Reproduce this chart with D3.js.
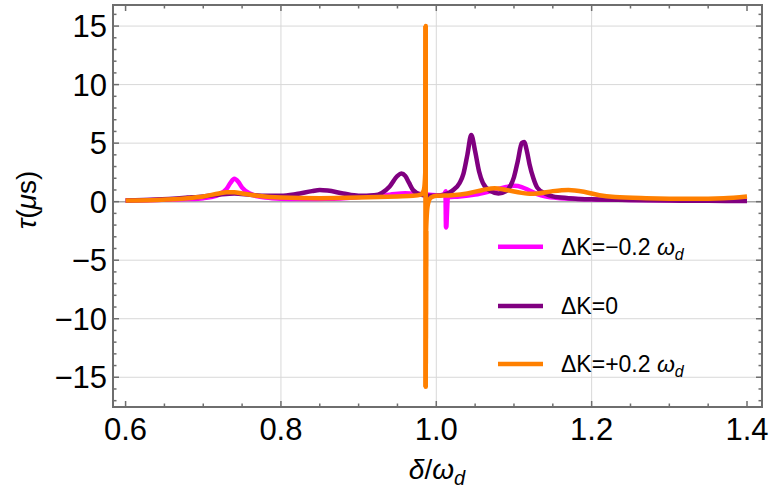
<!DOCTYPE html>
<html>
<head>
<meta charset="utf-8">
<script src="https://cdn.jsdelivr.net/npm/d3@7"></script>
<style>
    body { margin: 0; background: #fff; }
    svg text { font-family: "Liberation Sans", Arial, sans-serif; fill: #000; }
</style>
</head>
<body>
<div id="chart"></div>
<script>
(function () {
    'use strict';

    // delta/omega_d, tau (us)
    var seriesMinus = [
        [0.60, 0.10], [0.62, 0.12], [0.64, 0.15], [0.66, 0.18], [0.68, 0.22], [0.70, 0.30],
        [0.71, 0.40], [0.72, 0.60], [0.73, 1.10], [0.735, 1.60], [0.74, 1.95], [0.745, 1.70],
        [0.75, 1.20], [0.76, 0.70], [0.77, 0.45], [0.78, 0.35], [0.80, 0.25], [0.82, 0.22],
        [0.84, 0.22], [0.86, 0.25], [0.88, 0.30], [0.90, 0.40], [0.92, 0.50], [0.94, 0.60],
        [0.96, 0.72], [0.98, 0.65], [1.00, 0.55], [1.010, 0.60], [1.0122, 0.90], [1.0126, -2.2],
        [1.015, 0.40], [1.03, 0.45], [1.05, 0.60], [1.07, 0.90], [1.09, 1.25], [1.10, 1.35],
        [1.11, 1.25], [1.12, 0.95], [1.13, 0.65], [1.14, 0.45], [1.16, 0.30], [1.20, 0.20],
        [1.25, 0.15], [1.30, 0.12], [1.35, 0.10], [1.40, 0.08]
    ];

    var seriesZero = [
        [0.60, 0.10], [0.64, 0.18], [0.68, 0.35], [0.70, 0.45], [0.72, 0.60], [0.74, 0.70],
        [0.76, 0.60], [0.78, 0.50], [0.80, 0.50], [0.82, 0.65], [0.84, 0.90], [0.85, 1.00],
        [0.86, 0.95], [0.88, 0.70], [0.90, 0.50], [0.92, 0.55], [0.93, 0.75], [0.94, 1.30],
        [0.95, 2.20], [0.955, 2.40], [0.96, 2.20], [0.965, 1.60], [0.97, 1.00], [0.98, 0.60],
        [0.99, 0.50], [1.00, 0.50], [1.01, 0.60], [1.02, 0.90], [1.03, 1.60], [1.035, 2.40],
        [1.04, 4.00], [1.045, 5.70], [1.05, 4.30], [1.055, 2.60], [1.06, 1.60], [1.07, 0.90],
        [1.08, 0.70], [1.09, 0.90], [1.095, 1.30], [1.10, 2.10], [1.105, 3.50], [1.11, 5.00],
        [1.113, 5.10], [1.117, 4.20], [1.12, 3.20], [1.125, 2.00], [1.13, 1.20], [1.14, 0.70],
        [1.15, 0.45], [1.17, 0.30], [1.20, 0.20], [1.25, 0.15], [1.30, 0.10], [1.35, 0.07],
        [1.40, 0.05]
    ];

    var seriesPlus = [
        [0.60, 0.10], [0.64, 0.15], [0.68, 0.30], [0.70, 0.45], [0.72, 0.70], [0.73, 0.80],
        [0.74, 0.80], [0.75, 0.70], [0.77, 0.50], [0.80, 0.35], [0.85, 0.30], [0.90, 0.35],
        [0.95, 0.45], [0.97, 0.50], [0.98, 0.60], [0.984, 1.0], [0.9858, 2.5], [0.98635, 15.0],
        [0.98640, -15.8], [0.9869, -2.5], [0.989, -0.3], [0.993, 0.35], [1.00, 0.50], [1.02, 0.55],
        [1.04, 0.70], [1.06, 1.00], [1.075, 1.15], [1.09, 1.00], [1.11, 0.75], [1.12, 0.68],
        [1.13, 0.70], [1.15, 0.90], [1.17, 1.00], [1.19, 0.85], [1.21, 0.55], [1.23, 0.40],
        [1.27, 0.30], [1.33, 0.25], [1.37, 0.30], [1.40, 0.45]
    ];

    var seriesNames = ['\u0394K=\u22120.2 ', '\u0394K=0', '\u0394K=+0.2 '];
    var seriesColors = ['#ff00ff', '#800080', '#ff8000'];
    var xTickLabels = [0.6, 0.8, 1.0, 1.2, 1.4];
    var yTickLabels = [-15, -10, -5, 0, 5, 10, 15];

    var width = 772, height = 495;
    var left = 113, right = 762, top = 5, bottom = 407;

    var x = d3.scaleLinear().domain([0.5838, 1.4193]).range([left, right]);
    var y = d3.scaleLinear().domain([-17.54, 16.80]).range([bottom, top]);

    var svg = d3.select('#chart').append('svg')
        .attr('width', width)
        .attr('height', height);

    // grid
    var grid = svg.append('g');
    grid.selectAll('.vgrid')
        .data([0.8, 1.0, 1.2])
        .enter().append('line')
        .attr('x1', function (d) { return x(d); })
        .attr('x2', function (d) { return x(d); })
        .attr('y1', top).attr('y2', bottom)
        .attr('stroke', '#d8d8d8').attr('stroke-width', 1);
    grid.selectAll('.hgrid')
        .data(yTickLabels.filter(function (d) { return d !== 0; }))
        .enter().append('line')
        .attr('x1', left).attr('x2', right)
        .attr('y1', function (d) { return y(d); })
        .attr('y2', function (d) { return y(d); })
        .attr('stroke', '#d8d8d8').attr('stroke-width', 1);
    grid.append('line')
        .attr('x1', left).attr('x2', right)
        .attr('y1', y(0)).attr('y2', y(0))
        .attr('stroke', '#a6a6a6').attr('stroke-width', 1.5);

    // curves
    var line = d3.line()
        .x(function (d) { return x(d[0]); })
        .y(function (d) { return y(d[1]); })
        .curve(d3.curveMonotoneX);
    var straight = d3.line()
        .x(function (d) { return x(d[0]); })
        .y(function (d) { return y(d[1]); });

    // points packed closer than 0.001 are resonances, drawn as straight strokes
    function spikes(s) {
        var out = [];
        for (var i = 1; i < s.length; i++) {
            if (s[i][0] - s[i - 1][0] < 0.001) {
                out.push([s[i - 1], s[i]]);
            }
        }
        return out;
    }

    [seriesMinus, seriesZero, seriesPlus].forEach(function (s, i) {
        var g = svg.append('g')
            .attr('fill', 'none')
            .attr('stroke', seriesColors[i])
            .attr('stroke-width', 4.5)
            .attr('stroke-linejoin', 'round');
        g.append('path').datum(s).attr('d', line);
        spikes(s).forEach(function (pair) {
            g.append('path').datum(pair).attr('d', straight).attr('stroke-linecap', 'butt');
        });
    });

    // frame with inward ticks on all sides
    var frameColor = '#6e6e6e';
    var xMinor = d3.range(0.6, 1.4001, 0.05);
    var yMinor = d3.range(-17, 16.001, 1);
    var ticks = svg.append('g').attr('stroke', frameColor).attr('stroke-width', 1.5);
    xMinor.forEach(function (v) {
        var major = Math.abs(v * 5 - Math.round(v * 5)) < 1e-6;
        var len = major ? 6 : 3.5;
        ticks.append('line').attr('x1', x(v)).attr('x2', x(v)).attr('y1', bottom).attr('y2', bottom - len);
        ticks.append('line').attr('x1', x(v)).attr('x2', x(v)).attr('y1', top).attr('y2', top + len);
    });
    yMinor.forEach(function (v) {
        var major = v % 5 === 0;
        var len = major ? 6 : 3.5;
        ticks.append('line').attr('y1', y(v)).attr('y2', y(v)).attr('x1', left).attr('x2', left + len);
        ticks.append('line').attr('y1', y(v)).attr('y2', y(v)).attr('x1', right).attr('x2', right - len);
    });
    svg.append('rect')
        .attr('x', left).attr('y', top)
        .attr('width', right - left).attr('height', bottom - top)
        .attr('fill', 'none')
        .attr('stroke', frameColor)
        .attr('stroke-width', 2);

    // tick labels
    svg.selectAll('.xlab')
        .data(xTickLabels)
        .enter().append('text')
        .attr('x', function (d) { return x(d); })
        .attr('y', 440)
        .attr('text-anchor', 'middle')
        .attr('font-size', 31)
        .text(function (d) { return d3.format('.1f')(d); });

    svg.selectAll('.ylab')
        .data(yTickLabels)
        .enter().append('text')
        .attr('x', 107)
        .attr('y', function (d) { return y(d) + 11; })
        .attr('text-anchor', 'end')
        .attr('font-size', 31)
        .text(function (d) { return d < 0 ? '\u2212' + Math.abs(d) : d; });

    // axis titles
    var xt = svg.append('text')
        .attr('x', 437).attr('y', 479)
        .attr('text-anchor', 'middle')
        .attr('font-size', 28);
    xt.append('tspan').attr('font-style', 'italic').text('\u03b4');
    xt.append('tspan').text('/');
    xt.append('tspan').attr('font-style', 'italic').text('\u03c9');
    xt.append('tspan').attr('font-style', 'italic').attr('font-size', 20).attr('dy', 6).text('d');

    var yt = svg.append('text')
        .attr('transform', 'translate(36,200) rotate(-90)')
        .attr('text-anchor', 'middle')
        .attr('font-size', 28);
    yt.append('tspan').attr('font-style', 'italic').text('\u03c4');
    yt.append('tspan').text('(');
    yt.append('tspan').attr('font-style', 'italic').text('\u03bc');
    yt.append('tspan').text('s)');

    // legend
    var legendY = [246.7, 306, 364];
    var legend = svg.append('g');
    seriesNames.forEach(function (name, i) {
        legend.append('line')
            .attr('x1', 498).attr('x2', 543)
            .attr('y1', legendY[i]).attr('y2', legendY[i])
            .attr('stroke', seriesColors[i])
            .attr('stroke-width', 4.5);
        var t = legend.append('text')
            .attr('x', 561).attr('y', legendY[i] + 8)
            .attr('font-size', 23);
        t.append('tspan').text(name);
        if (i !== 1) {
            t.append('tspan').attr('font-style', 'italic').text('\u03c9');
            t.append('tspan').attr('font-style', 'italic').attr('font-size', 16).attr('dy', 5).text('d');
        }
    });
})();
</script>
</body>
</html>
